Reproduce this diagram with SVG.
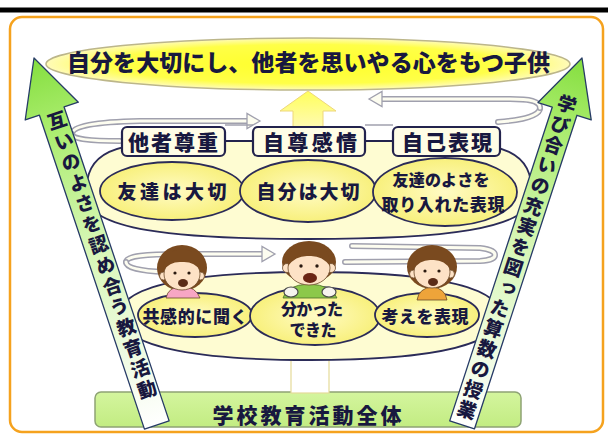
<svg xmlns="http://www.w3.org/2000/svg" xmlns:xlink="http://www.w3.org/1999/xlink" width="608" height="438" viewBox="0 0 608 438">
  <defs>
    <style>
      .jp { font-family: "Liberation Sans", "Noto Sans CJK JP", sans-serif; font-weight: 900; fill: #18183f; }
      .mid { text-anchor: middle; dominant-baseline: central; }
      .vtext { writing-mode: vertical-rl; font-family: "Liberation Sans", "Noto Sans CJK JP", sans-serif; font-weight: 900; fill: #18183f; font-size: 19px; }
      .garrow { fill: url(#gGreen); stroke: #263a66; stroke-width: 1.3; stroke-linejoin: round; }
      .box { fill: #fffde6; stroke: #23234d; stroke-width: 2.2; }
      .oval { fill: url(#gOval); stroke: #2b2b58; stroke-width: 1.8; }
      .bowl { fill: #fefcd2; stroke: #2b2b58; stroke-width: 1.8; }
      .ring { fill: none; stroke: #a0a0ae; stroke-width: 6; stroke-linecap: round; }
      .ring-in { fill: none; stroke: #fdfdf0; stroke-width: 3; stroke-linecap: round; }
      .ringhead { fill: #fdfdf0; stroke: #a0a0ae; stroke-width: 1.3; }
      .link { stroke: #23234d; stroke-width: 2; fill: none; }
      .hair { fill: #7a4a1f; }
      .skin { fill: #fde2c6; stroke: #6b4a2a; stroke-width: 0.8; }
      .eye { fill: #2a1a10; }
    </style>
    <linearGradient id="gGreen" gradientUnits="userSpaceOnUse" x1="0" y1="0" x2="0" y2="387">
      <stop offset="0" stop-color="#84de3e"/>
      <stop offset="0.18" stop-color="#a9ec6c"/>
      <stop offset="0.5" stop-color="#d6f6b4"/>
      <stop offset="1" stop-color="#ffffff"/>
    </linearGradient>
    <radialGradient id="gTitle" cx="50%" cy="50%" r="50%">
      <stop offset="0" stop-color="#ffff2a"/>
      <stop offset="0.75" stop-color="#ffff48"/>
      <stop offset="1" stop-color="#fffbb8"/>
    </radialGradient>
    <radialGradient id="gOval" cx="50%" cy="50%" r="50%">
      <stop offset="0" stop-color="#fffbc4"/>
      <stop offset="1" stop-color="#f8f07c"/>
    </radialGradient>
    <linearGradient id="gUp" x1="0" y1="0" x2="0" y2="1">
      <stop offset="0" stop-color="#ffff5a"/>
      <stop offset="1" stop-color="#fffab4"/>
    </linearGradient>
    <linearGradient id="gBase" x1="0" y1="0" x2="0" y2="1">
      <stop offset="0" stop-color="#d4f59e"/>
      <stop offset="1" stop-color="#c2ec82"/>
    </linearGradient>
    <!-- swirl ring segments -->
    <path id="r1a" d="M540 108 C540 101 530 99 510 99 L382 99"/>
    <path id="r1b" d="M540 108 C540 115 526 120 498 122"/>
    <path id="r1c" d="M72 134 C72 126 95 122 140 121 L248 121"/>
    <path id="r1d" d="M72 134 C72 139 90 141 120 141"/>
    <path id="r3a" d="M126 262 C126 256 146 254 180 254 L262 254"/>
    <path id="r3b" d="M126 262 C126 268 140 271 165 272"/>
    <path id="r3c" d="M345 262 L480 261 C500 260 500 250 480 248 L352 246"/>
  </defs>

  <!-- page frame -->
  <rect x="0" y="0" width="608" height="438" fill="#ffffff"/>
  <rect x="0" y="7.5" width="608" height="5" fill="#000000"/>
  <rect x="10" y="17" width="593" height="415" rx="12" fill="#ffffff" stroke="#f5a21e" stroke-width="2.5"/>

  <!-- foundation bar -->
  <g id="node-base">
    <rect x="95" y="392" width="426" height="35" rx="6" fill="url(#gBase)" stroke="#8ea374" stroke-width="1.5"/>
    <text class="jp mid" x="307" y="415" font-size="21" textLength="189" lengthAdjust="spacing">学校教育活動全体</text>
  </g>

  <g id="connectors">
    <!-- upward shaft from the base -->
    <rect x="291" y="357" width="38" height="36" fill="#ffffff" stroke="#e4da98" stroke-width="1.2"/>
  </g>

  <!-- lower tier -->
  <g id="node-tier3">
    <path class="bowl" d="M120 315 C120 282 210 272 310 272 C410 272 500 282 500 315 C500 350 410 360 310 360 C210 360 120 350 120 315 Z"/>
  </g>

  <g id="ring-tier3">
    <use xlink:href="#r3a" class="ring"/><use xlink:href="#r3a" class="ring-in"/>
    <use xlink:href="#r3b" class="ring"/><use xlink:href="#r3b" class="ring-in"/>
    <use xlink:href="#r3c" class="ring"/><use xlink:href="#r3c" class="ring-in"/>
    <polygon class="ringhead" points="275,254 262,246.5 262,261.5"/>
  </g>

  <g id="node-listen">
    <ellipse class="oval" cx="195" cy="315" rx="57" ry="22"/>
    <text class="jp mid" x="195" y="317" font-size="17" textLength="105" lengthAdjust="spacing">共感的に聞く</text>
  </g>
  <g id="node-understand">
    <ellipse class="oval" cx="315" cy="316" rx="65" ry="29"/>
    <text class="jp mid" x="312" y="309" font-size="16" textLength="62" lengthAdjust="spacing">分かった</text>
    <text class="jp mid" x="313" y="330" font-size="16" textLength="47" lengthAdjust="spacing">できた</text>
  </g>
  <g id="node-express">
    <ellipse class="oval" cx="427" cy="315" rx="52" ry="22"/>
    <text class="jp mid" x="425" y="317" font-size="17" textLength="87" lengthAdjust="spacing">考えを表現</text>
  </g>

  <!-- children -->
  <g id="child-left">
    <ellipse class="hair" cx="182" cy="268" rx="25" ry="23"/>
    <path d="M166 298 Q168 287 182 286 Q196 287 200 298 Z" fill="#f7a6c4" stroke="#6b4a2a" stroke-width="0.8"/>
    <circle class="skin" cx="163.5" cy="276" r="4"/>
    <circle class="skin" cx="200.5" cy="276" r="4"/>
    <ellipse class="skin" cx="182" cy="274" rx="18" ry="16"/>
    <path class="hair" d="M163 271 Q164 250 182 249 Q200 250 201 271 Q194 261 182 262 Q170 261 163 271 Z"/>
    <circle class="eye" cx="175" cy="273" r="1.6"/>
    <circle class="eye" cx="189" cy="273" r="1.6"/>
    <ellipse cx="183" cy="283" rx="5" ry="4" fill="#5a2c18"/>
  </g>
  <g id="child-middle">
    <ellipse class="hair" cx="309" cy="262" rx="27" ry="21"/>
    <path d="M283 298 Q286 285 309 284 Q332 285 337 298 Z" fill="#8cc84a" stroke="#4d6a2a" stroke-width="0.8"/>
    <circle class="skin" cx="287" cy="268" r="4.5"/>
    <circle class="skin" cx="331" cy="268" r="4.5"/>
    <ellipse class="skin" cx="309" cy="268" rx="21" ry="17"/>
    <path class="hair" d="M288 266 Q288 244 309 243 Q330 244 330 266 Q322 255 309 256 Q296 255 288 266 Z"/>
    <circle class="eye" cx="301" cy="266" r="1.7"/>
    <circle class="eye" cx="317" cy="266" r="1.7"/>
    <ellipse cx="310" cy="278" rx="7" ry="5" fill="#6a2414"/>
    <ellipse cx="291" cy="292" rx="7" ry="5" fill="#f6f4ee" stroke="#4a4a4a" stroke-width="1.2"/>
    <ellipse cx="329" cy="292" rx="7" ry="5" fill="#f6f4ee" stroke="#4a4a4a" stroke-width="1.2"/>
  </g>
  <g id="child-right">
    <ellipse class="hair" cx="432" cy="267" rx="25" ry="22"/>
    <path d="M417 300 Q419 288 432 287 Q445 288 447 300 Z" fill="#eea43a" stroke="#6b4a2a" stroke-width="0.8"/>
    <circle class="skin" cx="413.5" cy="274" r="4"/>
    <circle class="skin" cx="450.5" cy="274" r="4"/>
    <ellipse class="skin" cx="432" cy="272" rx="18" ry="16"/>
    <path class="hair" d="M413 270 Q414 249 432 248 Q450 249 451 270 Q444 259 432 260 Q420 259 413 270 Z"/>
    <circle class="eye" cx="425" cy="271" r="1.6"/>
    <circle class="eye" cx="439" cy="271" r="1.6"/>
    <ellipse cx="433" cy="282" rx="5" ry="4" fill="#5a2c18"/>
  </g>

  <!-- middle tier -->
  <g id="node-tier2">
    <path class="bowl" d="M86 195 C86 152 110 141 200 141 L420 141 C508 141 532 152 532 195 C532 230 440 239 308 239 C176 239 86 230 86 195 Z"/>
  </g>
  <g id="node-friends">
    <ellipse class="oval" cx="172" cy="191" rx="72" ry="29"/>
    <text class="jp mid" x="172" y="192" font-size="19" textLength="109" lengthAdjust="spacing">友達は大切</text>
  </g>
  <g id="node-self">
    <ellipse class="oval" cx="308" cy="191" rx="68" ry="31"/>
    <text class="jp mid" x="308" y="192" font-size="19" textLength="103" lengthAdjust="spacing">自分は大切</text>
  </g>
  <g id="node-adopt">
    <ellipse class="oval" cx="445" cy="192" rx="72" ry="34"/>
    <text class="jp mid" x="441" y="180" font-size="16" textLength="97" lengthAdjust="spacing">友達のよさを</text>
    <text class="jp mid" x="443" y="205" font-size="17" textLength="123" lengthAdjust="spacing">取り入れた表現</text>
  </g>

  <g id="ring-tier1">
    <use xlink:href="#r1c" class="ring"/><use xlink:href="#r1c" class="ring-in"/>
    <use xlink:href="#r1d" class="ring"/><use xlink:href="#r1d" class="ring-in"/>
    <use xlink:href="#r1b" class="ring"/><use xlink:href="#r1b" class="ring-in"/>
    <use xlink:href="#r1a" class="ring"/><use xlink:href="#r1a" class="ring-in"/>
    <polygon class="ringhead" points="260,121 247,113.5 247,128.5"/>
    <polygon class="ringhead" points="369,99 382,91.5 382,106.5"/>
    <line x1="225" y1="125" x2="253" y2="125" stroke="#a0a0ae" stroke-width="1.5"/>
    <line x1="365" y1="125" x2="393" y2="125" stroke="#a0a0ae" stroke-width="1.5"/>
  </g>

  <!-- rising arrow into the goal -->
  <g id="arrow-up">
    <path d="M308 91 L336 111 L323 111 L323 128 L293 128 L293 111 L280 111 Z" fill="url(#gUp)" stroke="#eed77a" stroke-width="1"/>
  </g>

  <g id="connectors-tier1">
    <line class="link" x1="225" y1="141" x2="253" y2="141"/>
    <line class="link" x1="365" y1="141" x2="393" y2="141"/>
  </g>

  <g id="node-respect">
    <rect class="box" x="122" y="127" width="103" height="29" rx="5"/>
    <text class="jp mid" x="173" y="142" font-size="21" textLength="90" lengthAdjust="spacing">他者尊重</text>
  </g>
  <g id="node-esteem">
    <rect class="box" x="253" y="127" width="112" height="29" rx="5"/>
    <text class="jp mid" x="310" y="142" font-size="21" textLength="94" lengthAdjust="spacing">自尊感情</text>
  </g>
  <g id="node-expression">
    <rect class="box" x="393" y="127" width="107" height="29" rx="5"/>
    <text class="jp mid" x="447" y="142" font-size="21" textLength="90" lengthAdjust="spacing">自己表現</text>
  </g>

  <!-- goal -->
  <g id="node-goal">
    <ellipse cx="308" cy="64" rx="262" ry="26" fill="url(#gTitle)" stroke="#bcb68a" stroke-width="1.5"/>
    <text class="jp mid" x="308.5" y="63" font-size="23" textLength="483" lengthAdjust="spacing">自分を大切にし、他者を思いやる心をもつ子供</text>
  </g>

  <!-- side arrows -->
  <g id="arrow-left" transform="translate(34 58) rotate(-18.5)">
    <path class="garrow" d="M0 0 L28 56 L13 56 L13 387 L-13 387 L-13 56 L-28 56 Z"/>
    <text class="vtext" x="0" y="57" letter-spacing="2.8">互いのよさを認め合う教育活動</text>
  </g>
  <g id="arrow-right" transform="translate(582 58) rotate(18.1)">
    <path class="garrow" d="M0 0 L28 56 L13 56 L13 386 L-13 386 L-13 56 L-28 56 Z"/>
    <text class="vtext" x="-2" y="39" letter-spacing="2.45">学び合いの充実を図った算数の授業</text>
  </g>
</svg>
